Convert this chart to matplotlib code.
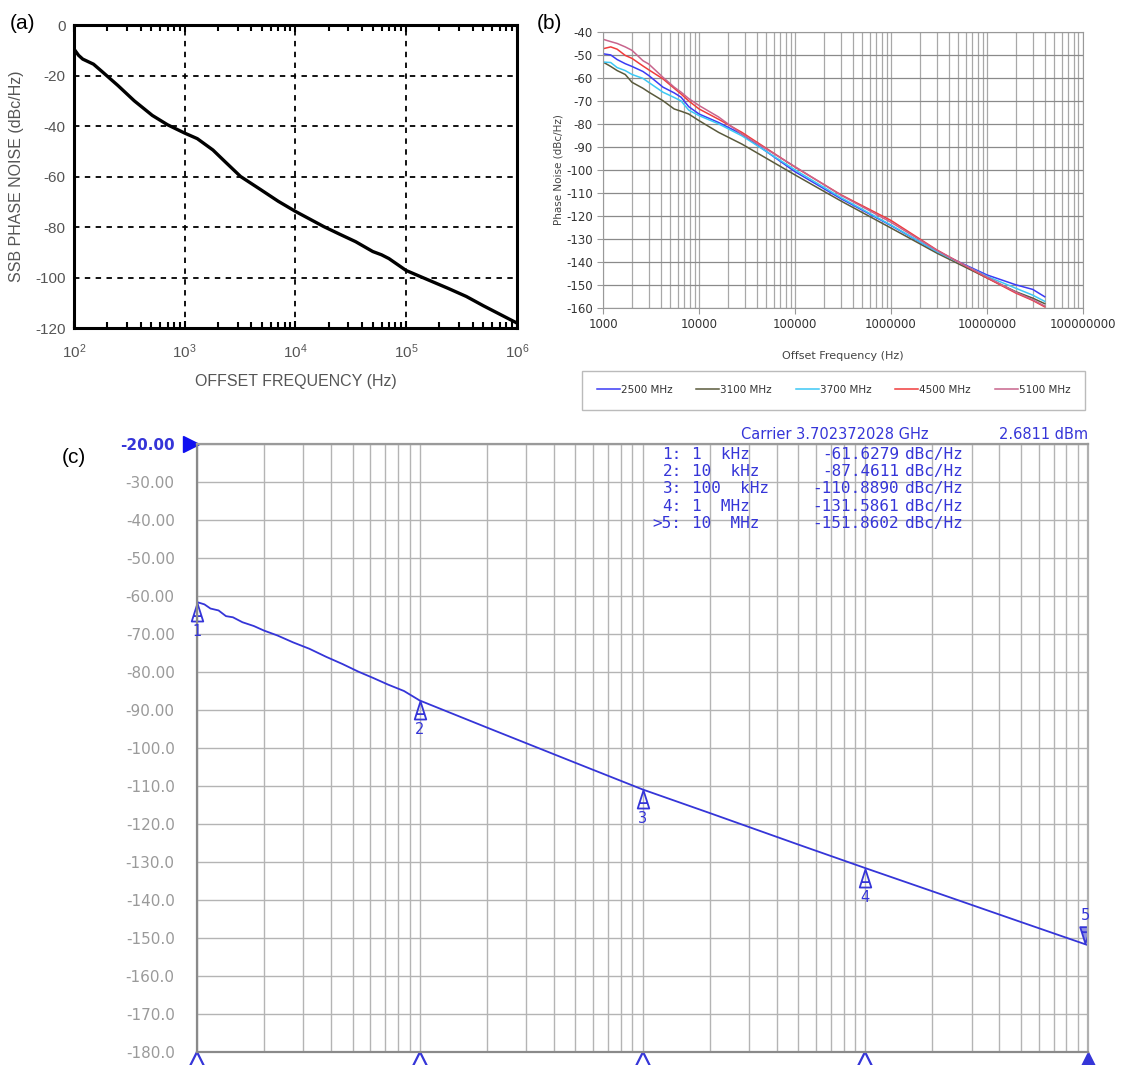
import matplotlib
matplotlib.use("Agg")
import matplotlib.pyplot as plt
import matplotlib.transforms as mtransforms
from matplotlib.path import Path
from matplotlib.ticker import LogLocator, NullFormatter, FixedLocator

plt.rcParams['mathtext.fontset'] = 'custom'
plt.rcParams['mathtext.rm'] = 'Liberation Sans'
plt.rcParams['mathtext.default'] = 'regular'
plt.rcParams['axes.unicode_minus'] = False

# ---- panel (a) data ----
a_freq = [100, 110, 120, 150, 180, 250, 350, 510, 700, 850, 1000, 1300, 1800, 2300, 3200,
          4900, 7000, 10000, 18000, 25000, 35000, 50000, 60000, 70000, 100000, 150000,
          240000, 350000, 500000, 700000, 1000000]
a_pn = [-9.5, -12, -13.5, -15.5, -18.5, -24, -30, -35.8, -39.5, -41.3, -42.8, -45, -49.5,
        -54, -60, -65.3, -69.8, -73.8, -79.8, -82.8, -85.8, -89.7, -91, -92.5, -97.2,
        -100.5, -104.3, -107.5, -111.2, -114.5, -118]

# ---- panel (b) data ----
b_freq = [1000, 1200, 1400, 1700, 2000, 2600, 3000, 4200, 5500, 6500, 7800, 10000, 16000,
          28000, 100000, 300000, 1000000, 3000000, 10000000, 20000000, 30000000, 40000000]
b_2500 = [-49.5, -50, -52, -53.8, -55, -57.2, -59, -64, -66.5, -68.4, -72.5, -75.7, -79.4,
          -84.5, -100.8, -112.5, -124.2, -135.6, -145.7, -150, -152, -155.2]
b_3100 = [-53.1, -55, -56.8, -58.5, -61.9, -64.5, -66.2, -69.9, -73.5, -74.5, -75.7, -78.6,
          -83.7, -88.8, -102.2, -113.5, -125.3, -136.2, -147, -153, -155.8, -158.2]
b_3700 = [-53.1, -53.3, -55.5, -56.8, -58.5, -60.2, -62, -66.2, -68.5, -70, -74, -76.4, -80,
          -85.2, -100, -112, -124, -135.5, -146.3, -151.5, -154.5, -157.2]
b_4500 = [-47.3, -46.5, -47.5, -50.2, -51.5, -54.8, -56.5, -60.4, -64.5, -67, -70, -73.5,
          -78, -83.7, -98.8, -110.8, -122, -134.8, -147, -153.6, -156.8, -159.6]
b_5100 = [-43.2, -44.2, -45, -46.5, -48, -52.5, -54, -59.7, -64, -66.2, -69, -72, -77,
          -84.5, -98.6, -111, -122.8, -135, -146.6, -153.2, -156.5, -159.2]
b_labels = ['2500 MHz', '3100 MHz', '3700 MHz', '4500 MHz', '5100 MHz']
b_colors = ['#3b3bf5', '#5a5a3c', '#3cc8f5', '#f03c3c', '#c8648c']
b_xticks = [1000, 10000, 100000, 1000000, 10000000, 100000000]
b_xticklabels = ['1000', '10000', '100000', '1000000', '10000000', '100000000']

# ---- panel (c) data ----
c_freq = [1000, 1080, 1150, 1250, 1350, 1450, 1600, 1800, 2000, 2300, 2700, 3200, 3800,
          4500, 5300, 6200, 7200, 8500, 10000, 20000, 50000, 100000, 200000, 500000,
          1000000, 2000000, 5000000, 10000000]
c_pn = [-61.6, -62.2, -63.3, -63.8, -65.3, -65.6, -66.9, -67.9, -69.1, -70.4, -72.2, -73.9,
        -76.0, -77.9, -79.9, -81.6, -83.3, -85.0, -87.5, -94.6, -103.9, -110.9, -117.1,
        -125.4, -131.6, -137.7, -145.8, -151.9]
c_yticks = [-20, -30, -40, -50, -60, -70, -80, -90, -100, -110, -120, -130, -140, -150,
            -160, -170, -180]
c_yticklabels = ['-20.00', '-30.00', '-40.00', '-50.00', '-60.00', '-70.00', '-80.00',
                 '-90.00', '-100.0', '-110.0', '-120.0', '-130.0', '-140.0', '-150.0',
                 '-160.0', '-170.0', '-180.0']
mk_num = ['1', '2', '3', '4', '5']
mk_freq_txt = ['1  kHz', '10  kHz', '100  kHz', '1  MHz', '10  MHz']
mk_freq = [1000, 10000, 100000, 1000000, 10000000]
mk_val = [-61.6279, -87.4611, -110.8890, -131.5861, -151.8602]

fig = plt.figure(figsize=(11.21, 10.65), dpi=100)

# ================= (a) =================
axa = fig.add_axes([0.066, 0.692, 0.395, 0.2845])
axa.semilogx(a_freq, a_pn, color='black', lw=2.4)
axa.set_xlim(1e2, 1e6)
axa.set_ylim(-120, 0)
axa.set_yticks([-120, -100, -80, -60, -40, -20, 0])
axa.set_xticks([1e2, 1e3, 1e4, 1e5, 1e6])
axa.set_xticklabels(['10$^{2}$', '10$^{3}$', '10$^{4}$', '10$^{5}$', '10$^{6}$'])
axa.xaxis.set_minor_locator(LogLocator(base=10, subs=range(2, 10)))
axa.xaxis.set_minor_formatter(NullFormatter())
for v in [1e3, 1e4, 1e5]:
    axa.axvline(v, color='black', lw=1.3, ls=(0, (3, 3)))
for v in [-20, -40, -60, -80, -100]:
    axa.axhline(v, color='black', lw=1.3, ls=(0, (3, 3)))
for s in axa.spines.values():
    s.set_linewidth(2.2)
axa.tick_params(which='both', direction='in', top=True, bottom=True, left=False, right=False,
                labelsize=11, labelcolor='#555555', pad=10)
axa.tick_params(which='major', length=5, width=1.5)
axa.tick_params(which='minor', length=4, width=1.5)
axa.tick_params(axis='y', pad=6)
for t in axa.get_xticklabels() + axa.get_yticklabels():
    t.set_fontfamily('Liberation Sans')
axa.set_ylabel('SSB PHASE NOISE (dBc/Hz)', fontfamily='Liberation Sans', fontsize=11.5,
               color='#555555', labelpad=8)
axa.set_xlabel('OFFSET FREQUENCY (Hz)', fontfamily='Liberation Sans', fontsize=11.5,
               color='#555555', labelpad=10)
fig.text(0.009, 0.978, '(a)', fontsize=15, fontfamily='Liberation Sans', va='center')

# ================= (b) =================
axb = fig.add_axes([0.538, 0.711, 0.428, 0.259])
for ys, lab, col in zip([b_2500, b_3100, b_3700, b_4500, b_5100], b_labels, b_colors):
    axb.semilogx(b_freq, ys, color=col, lw=1.1, label=lab)
axb.set_xlim(1e3, 1e8)
axb.set_ylim(-160, -40)
axb.set_yticks(range(-160, -39, 10))
axb.xaxis.set_major_locator(FixedLocator(b_xticks))
axb.set_xticklabels(b_xticklabels)
axb.xaxis.set_minor_locator(LogLocator(base=10, subs=range(2, 10)))
axb.xaxis.set_minor_formatter(NullFormatter())
axb.grid(True, which='both', axis='x', color='#a8a8a8', lw=0.9)
axb.grid(True, which='major', axis='y', color='#8a8a8a', lw=0.9)
axb.set_axisbelow(True)
for s in axb.spines.values():
    s.set_color('#999999')
axb.tick_params(which='major', length=4, color='#999999', labelsize=8.5, labelcolor='#333333')
axb.tick_params(which='minor', length=0)
axb.set_ylabel('Phase Noise (dBc/Hz)', fontsize=7.5, color='#444444', labelpad=2)
axb.set_xlabel('Offset Frequency (Hz)', fontsize=8, color='#444444', labelpad=14)
leg = axb.legend(loc='center', bbox_to_anchor=(-0.054, -0.38, 1.069, 0.163), mode='expand',
                 ncol=5, fontsize=7.5, frameon=True, fancybox=False, borderpad=1.4,
                 handlelength=2.2, handletextpad=0.1, labelcolor='#333333')
leg.get_frame().set_edgecolor('#aaaaaa')
leg.get_frame().set_linewidth(1.0)
fig.text(0.479, 0.978, '(b)', fontsize=15, fontfamily='Liberation Sans', va='center')

# ================= (c) =================
blue = '#3535d8'
axc = fig.add_axes([0.1757, 0.0122, 0.7949, 0.5709])
axc.semilogx(c_freq, c_pn, color=blue, lw=1.3)
axc.set_xlim(1e3, 1e7)
axc.set_ylim(-180, -20)
axc.set_yticks(c_yticks)
axc.set_yticklabels(c_yticklabels)
axc.xaxis.set_minor_locator(LogLocator(base=10, subs=range(2, 10)))
axc.xaxis.set_minor_formatter(NullFormatter())
axc.grid(True, which='both', axis='x', color='#b4b4b4', lw=1.0)
axc.grid(True, which='major', axis='y', color='#b4b4b4', lw=1.0)
axc.set_axisbelow(True)
axc.tick_params(which='both', length=0, labelbottom=False, labelsize=11, labelcolor='#9a9a9a',
                pad=16)
yl = axc.get_yticklabels()
yl[0].set_color(blue)
yl[0].set_fontweight('bold')
axc.spines['left'].set_color('#8a8a8a')
axc.spines['bottom'].set_color('#8a8a8a')
axc.spines['top'].set_color('#9a9a9a')
axc.spines['right'].set_color('#b0b0b0')
for s in axc.spines.values():
    s.set_linewidth(1.6)

# reference level marker
ref_tr = mtransforms.blended_transform_factory(axc.transAxes, axc.transData)
axc.plot([-0.007], [-20], marker='>', ms=12, color='#1010f0', transform=ref_tr, clip_on=False)

# marker triangles
tri = Path([(-0.32, -0.5), (0, 0.5), (0.32, -0.5), (-0.32, -0.5), (-0.2, -0.2), (0.2, -0.2)],
           [Path.MOVETO, Path.LINETO, Path.LINETO, Path.CLOSEPOLY, Path.MOVETO, Path.LINETO])
tri_dn = Path([(-0.32, 0.5), (0, -0.5), (0.32, 0.5), (-0.32, 0.5), (-0.2, 0.2), (0.2, 0.2)],
              [Path.MOVETO, Path.LINETO, Path.LINETO, Path.CLOSEPOLY, Path.MOVETO, Path.LINETO])
below = mtransforms.offset_copy(axc.transData, fig=fig, x=0, y=-7, units='points')
for f, v, n in zip(mk_freq[:4], mk_val[:4], mk_num[:4]):
    axc.plot([f], [v], marker=tri, ms=13, mfc='none', mec=blue, mew=1.3, transform=below,
             clip_on=False)
    axc.annotate(n, (f, v), xytext=(0, -21), textcoords='offset points', ha='center',
                 va='center', color=blue, fontsize=10.5)
above = mtransforms.offset_copy(axc.transData, fig=fig, x=-2, y=7, units='points')
axc.plot([mk_freq[4]], [mk_val[4]], marker=tri_dn, ms=12, mfc='#9090e0', mec=blue, mew=1.3,
         transform=above, clip_on=True)
axc.annotate(mk_num[4], (mk_freq[4], mk_val[4]), xytext=(-2, 21), textcoords='offset points',
             ha='center', va='center', color=blue, fontsize=10.5, annotation_clip=False)

# bottom marker stubs
xax_tr = mtransforms.blended_transform_factory(axc.transData, axc.transAxes)
bot = mtransforms.offset_copy(xax_tr, fig=fig, x=0, y=-8, units='points')
for f in mk_freq[:4]:
    axc.plot([f], [0], marker='^', ms=16, mfc='none', mec=blue, mew=1.6, transform=bot,
             clip_on=False)
axc.plot([mk_freq[4]], [0], marker='^', ms=16, color=blue, transform=bot, clip_on=False)

# carrier & marker table
axc.text(0.61, 1.003, 'Carrier 3.702372028 GHz', transform=axc.transAxes, color=blue,
         fontsize=10.5, ha='left', va='bottom')
axc.text(1.0, 1.003, '2.6811 dBm', transform=axc.transAxes, color=blue, fontsize=10.5,
         ha='right', va='bottom')
row_y = [0.982, 0.954, 0.926, 0.898, 0.870]
for i in range(5):
    pre = '>' if i == 4 else ''
    axc.text(0.544, row_y[i], pre + mk_num[i] + ':', transform=axc.transAxes, color=blue,
             fontsize=11.5, fontfamily='DejaVu Sans Mono', ha='right', va='center')
    axc.text(0.556, row_y[i], mk_freq_txt[i], transform=axc.transAxes, color=blue,
             fontsize=11.5, fontfamily='DejaVu Sans Mono', ha='left', va='center')
    axc.text(0.788, row_y[i], '%.4f' % mk_val[i], transform=axc.transAxes, color=blue,
             fontsize=11.5, fontfamily='DejaVu Sans Mono', ha='right', va='center')
    axc.text(0.795, row_y[i], 'dBc/Hz', transform=axc.transAxes, color=blue,
             fontsize=11.5, fontfamily='DejaVu Sans Mono', ha='left', va='center')

fig.text(0.055, 0.57, '(c)', fontsize=15, fontfamily='Liberation Sans', va='center')

fig.savefig('out.png', dpi=100)
